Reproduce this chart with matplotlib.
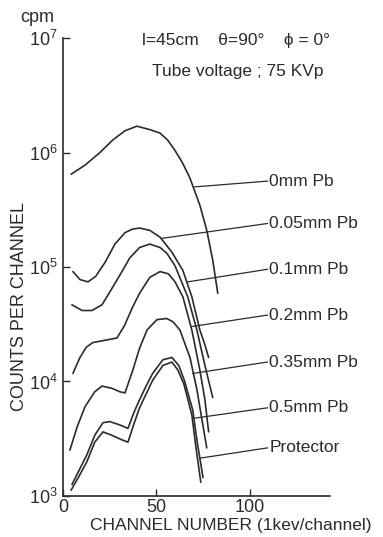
import numpy as np
import matplotlib
matplotlib.use("Agg")
import matplotlib.pyplot as plt
from matplotlib.ticker import FixedLocator, NullLocator

plt.rcParams["font.family"] = ["Liberation Sans", "DejaVu Sans"]
plt.rcParams["mathtext.fontset"] = "custom"
plt.rcParams["mathtext.rm"] = "Liberation Sans"
plt.rcParams["mathtext.default"] = "regular"

INK = "#2b2b2b"

# channel number vs log10(counts per channel)
ch_0 = [4.3, 11.8, 19.8, 26.7, 33.2, 39.6, 46.5, 51.9, 56.0, 59.9, 64.0, 67.9, 73.3, 77.0, 80.2, 82.9]
lg_0 = [5.81, 5.89, 6.00, 6.11, 6.19, 6.23, 6.20, 6.17, 6.11, 6.02, 5.91, 5.78, 5.54, 5.32, 5.06, 4.77]

ch_005 = [5.3, 9.1, 13.4, 17.6, 22.5, 27.8, 33.2, 37.0, 41.0, 46.5, 52.0, 58.3, 64.2, 69.0, 73.3, 76.0, 78.0]
lg_005 = [4.96, 4.89, 4.87, 4.92, 5.04, 5.20, 5.30, 5.33, 5.34, 5.32, 5.26, 5.13, 4.97, 4.74, 4.45, 4.32, 4.21]

ch_01 = [4.8, 10.2, 15.5, 20.9, 25.0, 30.5, 35.8, 41.0, 46.5, 52.0, 55.6, 60.0, 66.8, 71.7, 76.0, 80.2]
lg_01 = [4.67, 4.62, 4.62, 4.67, 4.78, 4.93, 5.08, 5.17, 5.20, 5.17, 5.12, 5.01, 4.74, 4.45, 4.14, 3.86]

ch_02 = [5.3, 9.1, 12.5, 16.0, 22.5, 28.9, 33.0, 37.0, 41.0, 46.5, 52.0, 56.5, 60.0, 64.2, 69.0, 73.3, 76.0, 78.0]
lg_02 = [4.07, 4.21, 4.30, 4.34, 4.36, 4.38, 4.49, 4.64, 4.77, 4.91, 4.96, 4.94, 4.87, 4.74, 4.45, 4.10, 3.84, 3.56]

ch_035 = [3.7, 7.5, 11.8, 17.0, 20.9, 26.2, 30.5, 33.2, 37.4, 41.0, 45.0, 50.3, 55.6, 59.0, 62.6, 68.0, 71.7, 74.9, 77.0]
lg_035 = [3.40, 3.60, 3.78, 3.91, 3.96, 3.94, 3.91, 3.90, 4.10, 4.29, 4.45, 4.54, 4.55, 4.52, 4.45, 4.21, 3.93, 3.62, 3.42]

ch_05 = [4.8, 8.8, 12.8, 17.0, 21.4, 25.0, 30.5, 34.8, 38.0, 41.0, 44.5, 48.0, 53.5, 58.3, 62.0, 65.0, 69.5, 71.7, 75.0]
lg_05 = [3.10, 3.23, 3.36, 3.53, 3.64, 3.65, 3.62, 3.59, 3.73, 3.84, 3.96, 4.07, 4.19, 4.21, 4.14, 4.01, 3.75, 3.49, 3.16]

ch_prot = [4.3, 8.5, 12.8, 17.0, 21.4, 26.2, 31.6, 34.8, 38.0, 41.0, 44.5, 48.0, 53.5, 58.3, 61.5, 64.7, 69.0, 71.0, 73.8]
lg_prot = [3.05, 3.17, 3.30, 3.47, 3.56, 3.53, 3.49, 3.47, 3.63, 3.77, 3.89, 4.01, 4.14, 4.17, 4.10, 3.98, 3.71, 3.45, 3.12]

labels = ["0mm Pb", "0.05mm Pb", "0.1mm Pb", "0.2mm Pb", "0.35mm Pb", "0.5mm Pb", "Protector"]
# where each leader line touches its curve, and the height of its label
lead_ch = [70.6, 52.9, 66.8, 69.0, 69.5, 70.6, 73.3]
lead_lg = [5.70, 5.25, 4.87, 4.48, 4.07, 3.68, 3.33]
label_lg = [5.75, 5.38, 4.98, 4.58, 4.17, 3.77, 3.42]
LABEL_CH = 110.5

curves = [(ch_0, lg_0), (ch_005, lg_005), (ch_01, lg_01), (ch_02, lg_02),
          (ch_035, lg_035), (ch_05, lg_05), (ch_prot, lg_prot)]

fig = plt.figure(figsize=(3.83, 5.37), dpi=100)
ax = fig.add_axes([0.1645, 0.0764, 0.6971, 0.8528])

for ch, lg in curves:
    ax.plot(ch, 10 ** np.array(lg), color=INK, lw=1.2,
            solid_capstyle="round", solid_joinstyle="round")

for name, xc, yc, yl in zip(labels, lead_ch, lead_lg, label_lg):
    ax.plot([xc, LABEL_CH - 1.0], [10 ** yc, 10 ** yl], color=INK, lw=0.9)
    ax.text(LABEL_CH, 10 ** yl, name, ha="left", va="center", fontsize=12.5, color=INK)

ax.set_yscale("log")
ax.set_xlim(0, 143)
ax.set_ylim(1e3, 1e7)
ax.yaxis.set_major_locator(FixedLocator([1e3, 1e4, 1e5, 1e6, 1e7]))
ax.yaxis.set_minor_locator(NullLocator())
ax.set_xticks([0, 50, 100])

for side in ("top", "right"):
    ax.spines[side].set_visible(False)
for side in ("left", "bottom"):
    ax.spines[side].set_color(INK)
    ax.spines[side].set_linewidth(1.2)

ax.tick_params(axis="both", direction="in", length=5, width=1.0, colors=INK,
               labelsize=13, pad=4)
ax.tick_params(axis="x", pad=2)

ax.set_xlabel("CHANNEL NUMBER (1kev/channel)", fontsize=12.5, color=INK)
ax.xaxis.set_label_coords(0.63, -0.048)
ax.set_ylabel("COUNTS PER CHANNEL", fontsize=13, color=INK)
ax.yaxis.set_label_coords(-0.13, 0.413)

ax.text(-0.097, 1.044, "cpm", transform=ax.transAxes, ha="center", va="center",
        fontsize=13, color=INK)
ax.text(0.296, 0.9956, "l=45cm    θ=90°    ϕ = 0°", transform=ax.transAxes,
        ha="left", va="center", fontsize=12.5, color=INK)
ax.text(0.333, 0.926, "Tube voltage ; 75 KVp", transform=ax.transAxes,
        ha="left", va="center", fontsize=12.5, color=INK)

fig.savefig("out.png", dpi=100)
